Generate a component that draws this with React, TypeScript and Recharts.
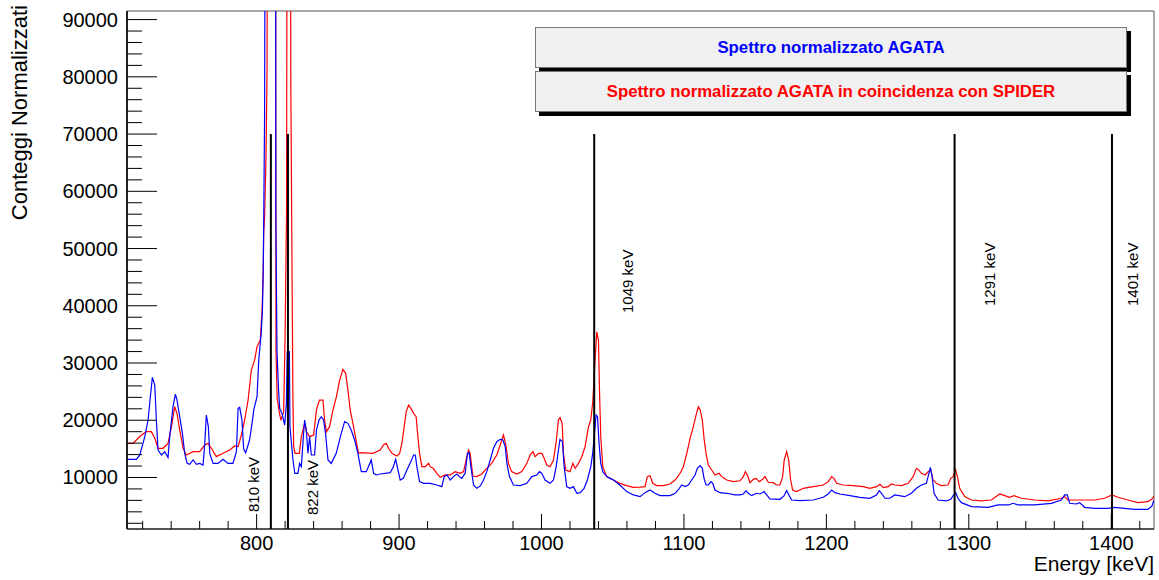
import * as React from 'react';
import { LineChart, Line, XAxis, YAxis, ReferenceLine, ReferenceArea } from 'recharts';

const blueEnergy = [
  709, 715.6, 718, 721.5, 723.8, 725.4, 726.8, 728.5, 729.6, 730.8, 733.2, 735.5, 737.8, 739, 741.3, 743, 744.1, 746, 747.9, 749.5,
  751.2, 753, 755.4, 757.7, 760, 762.4, 763.6, 764.7, 766.1, 767.1, 769.4, 772.9, 776.4, 779.9, 783.4, 785.8, 787, 788.1, 789.7, 790.9,
  792.3, 795, 796.8, 798, 800.3, 801.5, 803.2, 804.1, 804.6, 805, 805.6, 806.4, 813.1, 813.5, 814.3, 815.4, 816.2, 817.8, 819.7, 820.9,
  821.5, 823, 823.4, 825.5, 826.8, 829, 830.2, 831.4, 832.5, 833.7, 834.9, 836, 837.2, 838.4, 840.7, 842, 843.8, 845.4, 847, 848.4,
  850.1, 852.4, 855.9, 859.4, 861.8, 864.1, 866.4, 868.8, 871.1, 873.5, 877, 880.5, 882.1, 884, 886.8, 893.8, 896, 897.6, 899, 900.8,
  903, 905.5, 908.3, 910.2, 911.4, 912.5, 914.4, 917.2, 921.9, 926.5, 930, 931.7, 933.6, 935.9, 938.2, 940.6, 942.4, 944, 946.4, 948,
  949.2, 950.4, 952.3, 954.6, 957, 959.3, 961.6, 964, 966.3, 968.6, 971, 972.9, 974.5, 975.7, 977.5, 980.3, 985, 989.7, 993.2, 996.7,
  998.6, 1000.2, 1002.5, 1006, 1008.4, 1010.3, 1011.9, 1013, 1014.7, 1015.9, 1017.7, 1020, 1022.4, 1024.8, 1027.1, 1029.9, 1032.2, 1034.6, 1036, 1038.3,
  1039.3, 1040.4, 1041.6, 1043, 1045.8, 1048.2, 1050.5, 1055, 1059.8, 1064.5, 1069.2, 1072.7, 1076.2, 1079.7, 1083.2, 1090.2, 1093.8, 1096.8, 1098.4, 1100.8,
  1103.1, 1105.4, 1107.8, 1109.4, 1111.3, 1112.9, 1114.1, 1115.5, 1117.1, 1119, 1120.2, 1121.8, 1125.3, 1130, 1135.8, 1139.4, 1141.7, 1143.6, 1145.2, 1147.5,
  1151, 1153.4, 1156.2, 1158.1, 1160.4, 1167.4, 1170.2, 1172.1, 1173.7, 1175.6, 1181.4, 1190.8, 1197.8, 1201.3, 1203.7, 1206, 1209.5, 1216.5, 1223.5, 1230.5,
  1235.2, 1237.1, 1238.7, 1241.1, 1244.6, 1248, 1255, 1259.7, 1263.2, 1266.7, 1270.2, 1271.4, 1273, 1274.2, 1275.6, 1278.4, 1284.2, 1287.3, 1288.9, 1290.8,
  1292.4, 1294.8, 1301.8, 1313.5, 1320.5, 1328, 1331, 1334.5, 1346.2, 1358, 1364.9, 1367.3, 1369.1, 1370.8, 1375.4, 1377.8, 1381.3, 1388.3, 1397.6, 1402.3,
  1409.3, 1416.4, 1425.7, 1428.5, 1430,
];
const blueCounts = [
  13170, 13170, 13930, 17130, 20040, 24100, 27490, 26150, 20040, 14800, 13930, 14500, 13500, 17130, 22370, 24580, 23530, 20620, 17710, 14220,
  12470, 12300, 13060, 12300, 12470, 12180, 15960, 20910, 18880, 14220, 12470, 12470, 13170, 12470, 12470, 14500, 22070, 22250, 20040, 15000,
  14300, 16500, 19500, 21800, 24130, 30540, 35250, 39260, 45700, 55300, 73600, 160000, 160000, 55500, 32000, 25300, 22070, 21200, 19170, 22950,
  32000, 32000, 18880, 13100, 10730, 10730, 12470, 11900, 15960, 20040, 18300, 14220, 17130, 13930, 13930, 18300, 20040, 20620, 20040, 17710,
  13060, 12470, 14220, 17710, 19750, 19460, 18300, 16550, 14220, 11020, 11020, 13060, 10730, 10440, 10610, 10840, 11890, 13170, 11600, 9560,
  9850, 11310, 12770, 13930, 13930, 11890, 9270, 8980, 8980, 8690, 8400, 10150, 10440, 9560, 10150, 10610, 10150, 9850, 10730, 14220,
  14340, 11890, 8690, 8110, 8520, 9560, 11020, 13060, 15100, 16260, 16660, 16550, 15400, 12470, 10150, 8690, 8575, 8980, 10150, 10440,
  11020, 10730, 9560, 8980, 9560, 11890, 14800, 16660, 16260, 11890, 8400, 8110, 8400, 7240, 7350, 8110, 9560, 11890, 14340, 20910,
  20620, 15960, 12470, 11020, 10150, 9850, 9560, 8690, 7530, 6950, 6650, 7350, 7820, 7240, 6830, 6830, 7240, 8110, 8690, 8400,
  8690, 9560, 10440, 11600, 12070, 11600, 9850, 8690, 8690, 9270, 8980, 7820, 7350, 7240, 6950, 6950, 7120, 7700, 7240, 6830,
  7240, 7120, 7530, 6950, 6250, 6190, 6770, 7700, 6950, 6070, 5960, 6070, 6540, 7120, 7820, 7350, 7120, 6830, 6540, 6370,
  6950, 7700, 7240, 6370, 6370, 6950, 6650, 7240, 8110, 8690, 8980, 10150, 11780, 10150, 7240, 6070, 5900, 6190, 6770, 7350,
  6370, 5600, 4900, 4790, 5200, 5200, 5490, 5200, 5200, 5490, 6070, 6950, 6950, 5490, 5370, 5600, 4790, 4620, 4620, 4790,
  4620, 4440, 4440, 5000, 6070,
];

const redEnergy = [
  709, 713.3, 715.6, 719.1, 722.6, 726.1, 728.5, 730.8, 734.3, 737.8, 740.2, 742.5, 744.1, 746, 748.4, 750.7, 755.4, 760, 763.6, 765.9,
  768.2, 771.7, 776.4, 781.1, 784.6, 787, 789.3, 791.6, 794, 796.3, 798.6, 800.3, 802.6, 803.8, 804.6, 805, 805.6, 806.5, 807.3, 808,
  813.2, 813.6, 814.4, 815.5, 817, 819, 820, 821, 821.7, 823.6, 824, 825, 825.5, 826, 827, 830, 831.4, 833.7, 835, 837.2,
  840, 842, 844.1, 846.6, 847.7, 849, 851.2, 853.6, 856, 858.3, 860.6, 862.5, 864.1, 865.7, 867.6, 870, 871.6, 873.5, 881.6, 886.8,
  889, 891, 892.6, 895, 898.5, 900.4, 902, 903.6, 905, 906.7, 908.3, 910.2, 912, 913, 914.4, 916, 918.4, 920.7, 921.9, 924,
  926.5, 928.9, 932.4, 935.9, 939.4, 943, 945.3, 947.1, 948.8, 949.9, 951.8, 954.6, 958, 961.6, 965, 968.6, 971, 973.3, 975, 976.8,
  979, 982.7, 986.2, 989.7, 992, 994, 995.5, 997.9, 1000.2, 1001.4, 1003.7, 1006, 1008.4, 1010.3, 1011.9, 1013, 1014.5, 1015.4, 1017, 1020,
  1022, 1023.6, 1026, 1028.3, 1030.6, 1033, 1034.6, 1036, 1037.5, 1038.8, 1040, 1040.7, 1041.6, 1043, 1045.8, 1050.5, 1055, 1059.8, 1064.5, 1069.2,
  1072.7, 1074.3, 1076.2, 1078.1, 1080.9, 1085.6, 1090.2, 1093.8, 1097.3, 1099.6, 1102, 1104.3, 1106.6, 1108.5, 1110.1, 1111.3, 1112.9, 1114.1, 1115.5, 1117.1,
  1119.5, 1121.8, 1124.6, 1126.5, 1130, 1134.7, 1139.4, 1141.7, 1143.1, 1144.5, 1146.4, 1148.7, 1150.6, 1152.9, 1155.2, 1156.9, 1159.2, 1162.7, 1165.1, 1167.4,
  1169.3, 1170.4, 1172.1, 1173.5, 1174.9, 1176.3, 1179.1, 1183.8, 1190.8, 1197.8, 1201.3, 1203.7, 1205.3, 1207.2, 1211.8, 1218.9, 1225.9, 1230.5, 1235.2, 1237.6,
  1239.9, 1243.4, 1245.7, 1248, 1252.7, 1257.4, 1260.9, 1263.2, 1264.8, 1266.7, 1269.5, 1271.4, 1273.3, 1274.9, 1277.2, 1280.7, 1285.4, 1287.3, 1289, 1290.6,
  1292, 1293.6, 1297.1, 1301.8, 1308.8, 1315.8, 1321.7, 1325.2, 1328.5, 1331.7, 1336.9, 1346.2, 1355.6, 1364.9, 1367.3, 1369.6, 1379, 1388.3, 1395.3, 1400.5,
  1404.7, 1411.7, 1418.7, 1425.7, 1429.2, 1430,
];
const redCounts = [
  15960, 15960, 16550, 17420, 18000, 18000, 16840, 15100, 15100, 15960, 18880, 22370, 21200, 18300, 15100, 13930, 14510, 14510, 15670, 15960,
  15100, 13640, 14220, 14800, 15500, 15400, 17420, 20040, 23530, 28770, 30510, 32860, 34000, 39260, 45700, 52700, 55500, 65000, 80270, 160000,
  160000, 32000, 24000, 22000, 20000, 21500, 35000, 56400, 160000, 160000, 79100, 41000, 23500, 15400, 14220, 14220, 17130, 19460, 18000, 17130,
  17420, 21800, 23530, 23530, 20040, 18000, 18880, 21800, 24100, 27030, 28890, 28200, 25300, 21800, 19460, 16260, 14220, 14340, 14220, 14800,
  15670, 15960, 15100, 14220, 13750, 14220, 15960, 18880, 21500, 22660, 22070, 21200, 20620, 17710, 14220, 11890, 11890, 12470, 11890, 11600,
  10730, 10030, 10440, 10440, 11020, 10730, 11020, 13060, 14800, 14220, 10260, 10150, 10610, 11600, 12470, 13930, 15670, 17420, 15670, 12470,
  11020, 10610, 11020, 12470, 13930, 14510, 13640, 14220, 14220, 13640, 12180, 11890, 13060, 16260, 20040, 20450, 19460, 14220, 11310, 11020,
  12470, 11600, 12470, 13640, 15400, 18880, 20040, 23240, 30000, 35460, 34000, 25300, 17130, 11890, 10150, 9560, 8980, 8575, 8280, 8300,
  8400, 10150, 10320, 8980, 8575, 8575, 8860, 9560, 10730, 11890, 14220, 16840, 18880, 20910, 22370, 21900, 20040, 16840, 14220, 12180,
  11310, 10440, 10730, 10150, 9560, 9270, 9420, 10150, 11020, 10440, 9100, 9680, 9850, 9270, 9680, 10150, 9160, 9100, 8690, 8690,
  10150, 13060, 14510, 13060, 9560, 7820, 7530, 8110, 8400, 8690, 9270, 10150, 9850, 8980, 8690, 8575, 8400, 8110, 8400, 8810,
  8225, 8400, 8860, 8690, 8575, 8980, 10150, 11600, 11310, 10730, 10440, 11020, 11310, 9560, 8980, 8575, 8690, 9850, 10150, 11430,
  10150, 8110, 6650, 6070, 5900, 6070, 7120, 6830, 6540, 6830, 6370, 6070, 5900, 6370, 6650, 6070, 6070, 6070, 6370, 6950,
  6540, 6070, 5600, 5780, 6370, 6800,
];

// marker lines: where drawn on the axis, and the label written next to each
const markerEnergy = [810, 822, 1037, 1290, 1400.5];
const markerLabels = ['810 keV', '822 keV', '1049 keV', '1291 keV', '1401 keV'];
const markerTop = 70000;

const xMajorTicks = [800, 900, 1000, 1100, 1200, 1300, 1400];
const xMinorTicks = [720, 740, 760, 780, 820, 840, 860, 880, 920, 940, 960, 980, 1020, 1040, 1060, 1080, 1120, 1140, 1160, 1180,
  1220, 1240, 1260, 1280, 1320, 1340, 1360, 1380, 1420];
const yMajorTicks = [10000, 20000, 30000, 40000, 50000, 60000, 70000, 80000, 90000];
const yMinorTicks = [2000, 4000, 6000, 8000, 12000, 14000, 16000, 18000, 22000, 24000, 26000, 28000, 32000, 34000, 36000, 38000,
  42000, 44000, 46000, 48000, 52000, 54000, 56000, 58000, 62000, 64000, 66000, 68000, 72000, 74000, 76000, 78000, 82000, 84000,
  86000, 88000];

const legendTexts = ['Spettro normalizzato AGATA', 'Spettro normalizzato AGATA in coincidenza con SPIDER'];

const X_DOMAIN: [number, number] = [709, 1430];
const Y_DOMAIN: [number, number] = [1000, 91500];

const W = 1159;
const H = 580;
const PLOT_LEFT = 127;
const PLOT_BOTTOM = 529;
const FONT = '"Liberation Sans", Arial, Helvetica, sans-serif';

// label offsets relative to each marker line (dx from line, baseline y where the text starts)
const labelPos = [
  { dx: -12, ty: 512 },
  { dx: 30, ty: 515 },
  { dx: 39, ty: 313 },
  { dx: 40, ty: 306 },
  { dx: 26, ty: 306 },
];

const blueData = blueEnergy.map((e, i) => ({ e, v: blueCounts[i] }));
const redData = redEnergy.map((e, i) => ({ e, v: redCounts[i] }));

const YTick = (props: any) => {
  const { y, payload } = props;
  const major = yMajorTicks.includes(payload.value);
  return (
    <g>
      <line x1={PLOT_LEFT} x2={PLOT_LEFT + (major ? 30 : 15)} y1={y} y2={y} stroke="#000" strokeWidth={1} />
      {major && (
        <text x={PLOT_LEFT - 9} y={y} textAnchor="end" dominantBaseline="central" fontSize={20} fontFamily={FONT} fill="#000">
          {payload.value}
        </text>
      )}
    </g>
  );
};

const XTick = (props: any) => {
  const { x, payload } = props;
  const major = xMajorTicks.includes(payload.value);
  return (
    <g>
      <line x1={x} x2={x} y1={PLOT_BOTTOM} y2={PLOT_BOTTOM - (major ? 15 : 8)} stroke="#000" strokeWidth={1} />
      {major && (
        <text x={x} y={PLOT_BOTTOM + 21} textAnchor="middle" fontSize={20} fontFamily={FONT} fill="#000">
          {payload.value}
        </text>
      )}
    </g>
  );
};

const MarkerLabel = (props: any) => {
  const { viewBox, text, dx, ty } = props;
  const x = (viewBox?.x ?? 0) + dx;
  return (
    <text transform={`translate(${x}, ${ty}) rotate(-90)`} textAnchor="start" fontSize={15} fontFamily={FONT} fill="#000">
      {text}
    </text>
  );
};

const LegendBox = ({ top, color, text }: { top: number; color: string; text: string }) => (
  <div style={{ position: 'absolute', left: 535, top, width: 592, height: 41 }}>
    <div style={{ position: 'absolute', left: 4, top: 4, width: 592, height: 41, background: '#000' }} />
    <div
      style={{
        position: 'absolute', left: 0, top: 0, width: 590, height: 39, background: '#f0f0f0', border: '1px solid #777',
        display: 'flex', alignItems: 'center', justifyContent: 'center', color, fontWeight: 'bold', fontSize: 16.8, fontFamily: FONT,
      }}
    >
      {text}
    </div>
  </div>
);

export default function App() {
  return (
    <div style={{ position: 'absolute', left: 0, top: 0, width: W, height: H, background: '#fff' }}>
      <LineChart width={W} height={H} margin={{ top: 11, right: 5, bottom: 11, left: 7 }}>
        <XAxis
          type="number"
          dataKey="e"
          domain={X_DOMAIN}
          allowDataOverflow
          ticks={[...xMinorTicks, ...xMajorTicks].sort((a, b) => a - b)}
          interval={0}
          tick={(p: any) => <XTick {...p} />}
          tickLine={false}
          axisLine={{ stroke: '#000', strokeWidth: 1.2 }}
          height={40}
        />
        <YAxis
          type="number"
          domain={Y_DOMAIN}
          allowDataOverflow
          ticks={[...yMinorTicks, ...yMajorTicks].sort((a, b) => a - b)}
          interval={0}
          tick={(p: any) => <YTick {...p} />}
          tickLine={false}
          axisLine={{ stroke: '#000', strokeWidth: 1.6 }}
          width={120}
        />
        <ReferenceArea x1={X_DOMAIN[0]} x2={X_DOMAIN[1]} y1={Y_DOMAIN[0]} y2={Y_DOMAIN[1]} fill="none" stroke="#555" strokeWidth={1} ifOverflow="visible" />
        <Line data={redData} dataKey="v" type="linear" stroke="#ff0000" strokeWidth={1.2} dot={false} isAnimationActive={false} />
        <Line data={blueData} dataKey="v" type="linear" stroke="#0000ff" strokeWidth={1.2} dot={false} isAnimationActive={false} />
        {markerEnergy.map((e, i) => (
          <ReferenceLine
            key={markerLabels[i]}
            segment={[{ x: e, y: Y_DOMAIN[0] }, { x: e, y: markerTop }]}
            stroke="#000"
            strokeWidth={2}
            label={<MarkerLabel text={markerLabels[i]} dx={labelPos[i].dx} ty={labelPos[i].ty} />}
          />
        ))}
      </LineChart>
      <svg width={W} height={H} style={{ position: 'absolute', left: 0, top: 0, pointerEvents: 'none' }}>
        <text transform="translate(27, 5) rotate(-90)" textAnchor="end" fontSize={22} fontFamily={FONT} fill="#000">
          Conteggi Normalizzati
        </text>
        <text x={1154} y={571} textAnchor="end" fontSize={21} fontFamily={FONT} fill="#000">
          Energy [keV]
        </text>
      </svg>
      <LegendBox top={27} color="#0000ff" text={legendTexts[0]} />
      <LegendBox top={71} color="#ff0000" text={legendTexts[1]} />
    </div>
  );
}
